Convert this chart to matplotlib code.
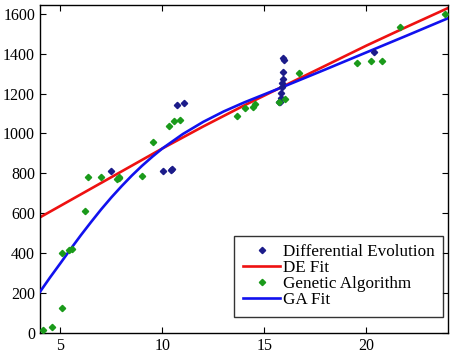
import matplotlib
matplotlib.use("Agg")
import matplotlib.pyplot as plt

plt.rcParams['font.family'] = ['Liberation Serif', 'DejaVu Serif']

# Differential Evolution samples
de_x = [7.5, 10.05, 10.4, 10.49, 10.72, 11.06, 15.7, 15.78, 15.8, 15.83, 15.86,
        15.88, 15.9, 15.92, 15.95, 15.9, 20.37]
de_y = [810, 812, 815, 823, 1144, 1154, 1156, 1156, 1176, 1201, 1231,
        1251, 1271, 1309, 1368, 1376, 1406]

# Genetic Algorithm samples
ga_x = [4.13, 4.59, 5.09, 5.09, 5.44, 5.59, 6.19, 6.37, 7.0, 7.76, 7.86, 7.89,
        8.98, 9.55, 10.32, 10.57, 10.88, 13.64, 14.05, 14.46, 14.56, 15.73,
        16.03, 16.7, 19.52, 20.23, 20.78, 21.65, 23.85]
ga_y = [15, 32, 127, 404, 419, 422, 610, 780, 780, 772, 778, 783,
        786, 958, 1039, 1064, 1069, 1089, 1126, 1131, 1147, 1156,
        1172, 1304, 1351, 1363, 1363, 1535, 1598]

# fitted curves
de_fit_x = [4, 6, 8, 10, 12, 14, 16, 18, 20, 22, 24]
de_fit_y = [580, 695, 810, 925, 1035, 1140, 1240, 1340, 1440, 1535, 1628]

ga_fit_x = [4, 4.5, 5, 5.5, 6, 6.5, 7, 7.5, 8, 8.5, 9, 9.5, 10, 11, 12, 13,
            14, 15, 16, 18, 20, 22, 24]
ga_fit_y = [207, 280, 350, 421, 490, 556, 620, 680, 736, 789, 838, 883, 925,
            997, 1058, 1110, 1155, 1196, 1237, 1321, 1406, 1491, 1577]

xticks = [5, 10, 15, 20]
yticks = [0, 200, 400, 600, 800, 1000, 1200, 1400, 1600]

fig = plt.figure(figsize=(4.54, 3.56), dpi=100)
ax = fig.add_axes([0.088, 0.064, 0.899, 0.923])

ax.plot(de_x, de_y, linestyle='none', marker='D', ms=3.2, color='#1c1c8a',
        label='Differential Evolution', zorder=4)
ax.plot(de_fit_x, de_fit_y, color='#ee1111', lw=1.9, label='DE Fit', zorder=2)
ax.plot(ga_x, ga_y, linestyle='none', marker='D', ms=3.2, color='#1a9a1a',
        label='Genetic Algorithm', zorder=4)
ax.plot(ga_fit_x, ga_fit_y, color='#1111ee', lw=1.9, label='GA Fit', zorder=3)

ax.set_xlim(4, 24)
ax.set_ylim(0, 1645)
ax.set_xticks(xticks)
ax.set_yticks(yticks)
ax.tick_params(direction='in', top=True, right=True, labelsize=11.5, length=4)
for s in ax.spines.values():
    s.set_linewidth(1.0)

leg = ax.legend(loc='lower right', bbox_to_anchor=(0.988, 0.05),
                fontsize=12.3, frameon=True, fancybox=False,
                edgecolor='black', handlelength=2.2, handletextpad=0.15,
                borderpad=0.5, labelspacing=0.0, borderaxespad=0)
leg.get_frame().set_linewidth(1.0)

fig.savefig('out.png', dpi=100)
